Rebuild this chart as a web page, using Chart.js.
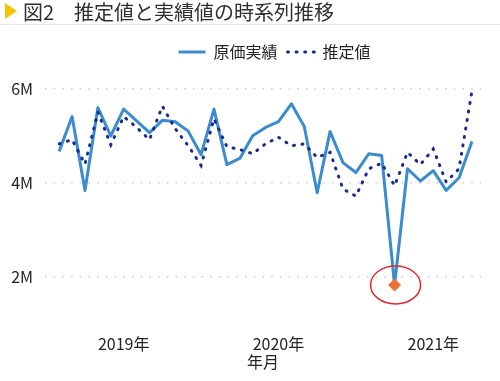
<!DOCTYPE html>
<html>
<head>
<meta charset="utf-8">
<script src="https://cdn.jsdelivr.net/npm/chart.js@4/dist/chart.umd.min.js"></script>
<style>
  html, body { margin: 0; padding: 0; background: #fff; }
  #wrap { position: relative; width: 500px; height: 381px; overflow: hidden; }
  #chart { position: absolute; left: 0; top: 0; }
  #title { position: absolute; left: 0; top: 0; width: 500px; height: 24px; border-bottom: 1px solid #e9e9e9; }
  #tri { position: absolute; left: 5px; top: 3px; width: 0; height: 0;
         border-top: 8.5px solid transparent; border-bottom: 8.5px solid transparent; border-left: 12px solid #F4C400; }
  #ttext { position: absolute; left: 23px; top: -3px; font-family: 'Noto Sans CJK JP', 'Noto Sans', sans-serif;
           font-size: 20px; color: #2f2f2f; white-space: nowrap; line-height: 30px; }
</style>
</head>
<body>
<div id="wrap">
  <canvas id="chart" width="500" height="381"></canvas>
  <div id="title"><div id="tri"></div><div id="ttext">図2　推定値と実績値の時系列推移</div></div>
</div>
<script>
// ---- data (values in millions) ----
const months = ['2018-08','2018-09','2018-10','2018-11','2018-12',
  '2019-01','2019-02','2019-03','2019-04','2019-05','2019-06','2019-07','2019-08','2019-09','2019-10','2019-11','2019-12',
  '2020-01','2020-02','2020-03','2020-04','2020-05','2020-06','2020-07','2020-08','2020-09','2020-10','2020-11','2020-12',
  '2021-01','2021-02','2021-03','2021-04'];
const actualValues = [4.67, 5.41, 3.84, 5.60, 5.00, 5.57, 5.32, 5.07, 5.33, 5.30, 5.10, 4.60, 5.57,
  4.39, 4.52, 5.00, 5.18, 5.30, 5.68, 5.20, 3.79, 5.09, 4.43, 4.22, 4.62, 4.58, 1.83,
  4.30, 4.04, 4.26, 3.84, 4.11, 4.88];
const estimateValues = [4.83, 4.92, 4.40, 5.50, 4.81, 5.41, 5.18, 4.92, 5.63, 5.15, 4.79, 4.37, 5.36,
  4.77, 4.71, 4.62, 4.83, 4.97, 4.79, 4.83, 4.54, 4.65, 3.87, 3.72, 4.30, 4.42, 3.94,
  4.65, 4.39, 4.72, 4.02, 4.30, 5.96];
const seriesNames = ['原価実績', '推定値'];
const yearTickMonths = ['2019-01', '2020-01', '2021-01'];
const yearTickLabels = ['2019年', '2020年', '2021年'];
const yTickValues = [2, 4, 6];
const highlightMonth = '2020-10';
const xAxisTitle = '年月';

// ---- build ----
const highlightIndex = months.indexOf(highlightMonth);
const yearTickPositions = yearTickMonths.map(m => months.indexOf(m));
const toPoints = arr => arr.map((v, i) => ({ x: i, y: v }));
const FONT = "'Noto Sans CJK JP', 'Noto Sans', sans-serif";
Chart.defaults.font.family = FONT;
Chart.defaults.color = '#252423';

const ACTUAL_COLOR = '#3A8CCF';
const EST_COLOR = '#1B2B8C';

const ellipsePlugin = {
  id: 'highlightEllipse',
  afterDatasetsDraw(chart) {
    const meta = chart.getDatasetMeta(0);
    const pt = meta.data[highlightIndex];
    if (!pt) return;
    const ctx = chart.ctx;
    ctx.save();
    ctx.beginPath();
    ctx.ellipse(pt.x + 1, pt.y, 25, 19, 0, 0, Math.PI * 2);
    ctx.strokeStyle = '#E2262B';
    ctx.lineWidth = 1.5;
    ctx.stroke();
    ctx.restore();
  }
};

const legendShiftPlugin = {
  id: 'legendShift',
  afterLayout(chart) {
    if (chart.legend) { chart.legend.left += 68; }
  }
};

new Chart(document.getElementById('chart'), {
  type: 'line',
  data: {
    datasets: [
      {
        label: seriesNames[0],
        data: toPoints(actualValues),
        borderColor: ACTUAL_COLOR,
        backgroundColor: ACTUAL_COLOR,
        borderWidth: 3,
        tension: 0,
        borderJoinStyle: 'round',
        pointRadius: c => c.dataIndex === highlightIndex ? 6.5 : 0,
        pointHoverRadius: c => c.dataIndex === highlightIndex ? 6.5 : 0,
        pointStyle: 'rectRot',
        pointBackgroundColor: '#E8743B',
        pointBorderWidth: 0,
        order: 1
      },
      {
        label: seriesNames[1],
        data: toPoints(estimateValues),
        borderColor: EST_COLOR,
        backgroundColor: EST_COLOR,
        borderWidth: 3,
        borderDash: [1, 7.6],
        borderCapStyle: 'round',
        tension: 0,
        pointRadius: 0,
        order: 0
      }
    ]
  },
  options: {
    responsive: false,
    animation: false,
    layout: { padding: { top: 34, right: 19, bottom: 0, left: 0 } },
    plugins: {
      tooltip: { enabled: false },
      legend: {
        position: 'top',
        align: 'center',
        labels: {
          usePointStyle: true,
          pointStyle: 'line',
          pointStyleWidth: 27,
          padding: 10,
          color: '#252423',
          font: { size: 16, family: FONT },
          generateLabels(chart) {
            return chart.data.datasets.map((ds, i) => ({
              text: ds.label,
              datasetIndex: i,
              strokeStyle: ds.borderColor,
              fillStyle: ds.borderColor,
              lineWidth: ds.borderWidth,
              lineDash: ds.borderDash || [],
              lineCap: ds.borderCapStyle || 'butt',
              pointStyle: 'line',
              fontColor: '#252423',
              hidden: false
            }));
          }
        }
      }
    },
    scales: {
      x: {
        type: 'linear',
        min: -1.1,
        max: 32.7,
        grid: { display: false, drawTicks: false },
        border: { display: false },
        afterBuildTicks(scale) { scale.ticks = yearTickPositions.map(v => ({ value: v })); },
        afterFit(scale) { scale.height = 57; },
        ticks: {
          padding: 10,
          maxRotation: 0,
          autoSkip: false,
          font: { size: 16 },
          color: '#252423',
          callback: v => yearTickLabels[yearTickPositions.indexOf(v)]
        },
        title: {
          display: true,
          text: xAxisTitle,
          font: { size: 16 },
          color: '#252423',
          padding: { top: 0, bottom: 9 }
        }
      },
      y: {
        type: 'linear',
        min: 1.0,
        max: 6.4,
        afterBuildTicks(scale) { scale.ticks = yTickValues.map(v => ({ value: v })); },
        afterFit(scale) { scale.width = 45; },
        grid: { color: '#cccccc', lineWidth: 1.5, drawTicks: false },
        border: { display: false, dash: [1.5, 7.2] },
        ticks: {
          padding: 12,
          font: { size: 16 },
          color: '#252423',
          callback: v => v + 'M'
        }
      }
    }
  },
  plugins: [ellipsePlugin, legendShiftPlugin]
});
</script>
</body>
</html>
